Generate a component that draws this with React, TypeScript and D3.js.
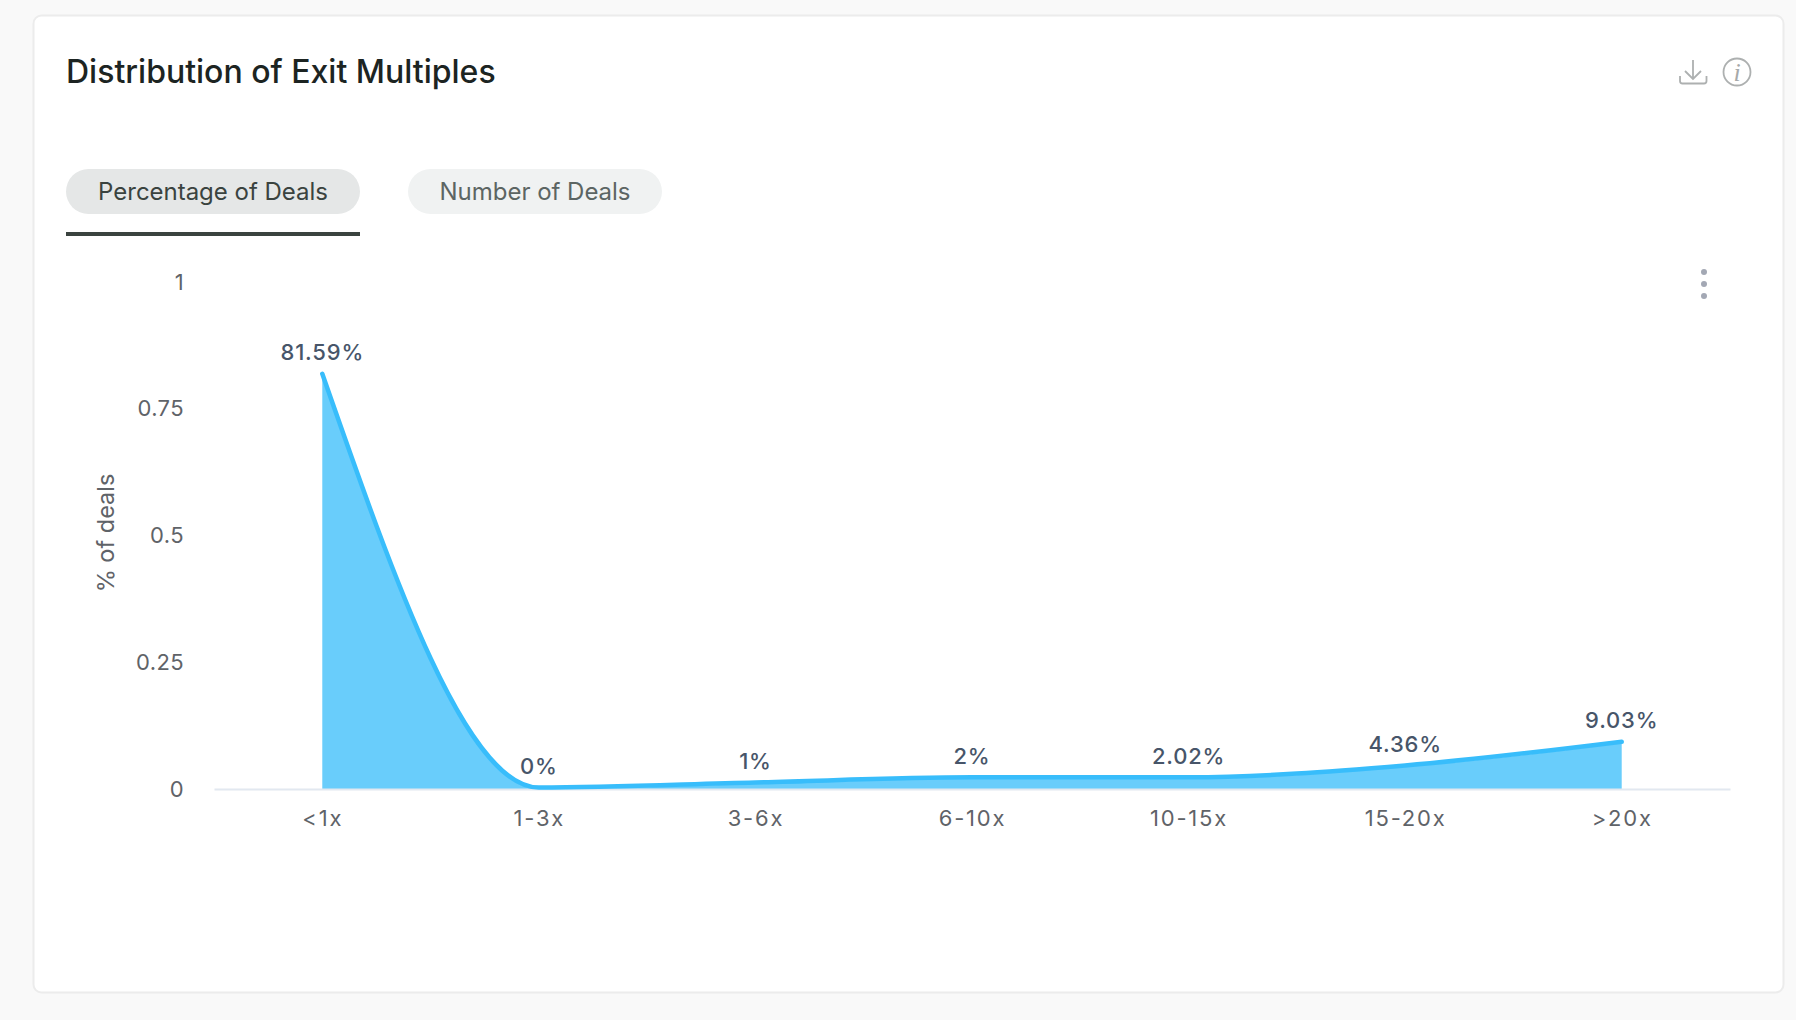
import { useEffect, useRef } from "react"
import * as d3 from "d3"

const categories = ["<1x", "1-3x", "3-6x", "6-10x", "10-15x", "15-20x", ">20x"]
const shares = [0.8159, 0, 0.01, 0.02, 0.0202, 0.0436, 0.0903]
const shareLabels = ["81.59%", "0%", "1%", "2%", "2.02%", "4.36%", "9.03%"]
const yTicks = [0, 0.25, 0.5, 0.75, 1]
const tabs = ["Percentage of Deals", "Number of Deals"]

const width = 1796
const height = 1020
const font = "Inter, sans-serif"

export default function App() {
  const svgRef = useRef<SVGSVGElement>(null)

  useEffect(() => {
    if (!svgRef.current) return

    const svg = d3.select(svgRef.current)
    svg.selectAll("*").remove()

    // page and card
    svg.append("rect").attr("width", width).attr("height", height).attr("fill", "#f9f9f9")
    svg
      .append("rect")
      .attr("x", 33.5)
      .attr("y", 15.5)
      .attr("width", 1750)
      .attr("height", 977)
      .attr("rx", 8)
      .attr("fill", "#fff")
      .attr("stroke", "#ececec")
      .attr("stroke-width", 2)

    svg
      .append("text")
      .attr("x", 66)
      .attr("y", 83)
      .attr("font-family", font)
      .attr("font-size", 32)
      .attr("font-weight", 500)
      .attr("fill", "#1c2422")
      .text("Distribution of Exit Multiples")

    // tabs
    const tabBoxes = [
      { x: 66, w: 294, fill: "#e5e7e7", color: "#3a433f" },
      { x: 408, w: 254, fill: "#f0f2f2", color: "#5c6563" },
    ]
    tabs.forEach((t, i) => {
      const b = tabBoxes[i]
      svg
        .append("rect")
        .attr("x", b.x)
        .attr("y", 169)
        .attr("width", b.w)
        .attr("height", 45)
        .attr("rx", 22.5)
        .attr("fill", b.fill)
      svg
        .append("text")
        .attr("x", b.x + b.w / 2)
        .attr("y", 200)
        .attr("text-anchor", "middle")
        .attr("font-family", font)
        .attr("font-size", 24)
        .attr("letter-spacing", -0.02)
        .attr("fill", b.color)
        .text(t)
    })
    svg.append("rect").attr("x", 66).attr("y", 232).attr("width", 294).attr("height", 4).attr("fill", "#3a433f")

    // header icons
    const icons = svg.append("g").attr("fill", "none").attr("stroke", "#adb0b0").attr("stroke-width", 1.8)
    icons.append("path").attr("d", "M1693 60V78M1685 71L1693 79L1701 71")
    icons.append("path").attr("d", "M1680 76V81Q1680 83.5 1682.5 83.5H1704Q1706.5 83.5 1706.5 81V76")
    icons.append("circle").attr("cx", 1737).attr("cy", 72).attr("r", 13.5)
    svg
      .append("text")
      .attr("x", 1737)
      .attr("y", 81)
      .attr("text-anchor", "middle")
      .attr("font-family", "'Liberation Serif', serif")
      .attr("font-style", "italic")
      .attr("font-size", 26)
      .attr("fill", "#a6a9a9")
      .text("i")

    // menu dots
    ;[272, 284, 296].forEach((cy) => {
      svg.append("circle").attr("cx", 1704).attr("cy", cy).attr("r", 3).attr("fill", "#a3a8b4")
    })

    const x = d3.scalePoint<string>().domain(categories).range([214, 1730]).padding(0.5)
    const y = d3.scaleLinear().domain([0, 1]).range([789, 282])

    const points = categories.map((c, i) => ({ c, v: shares[i], label: shareLabels[i] }))

    const area = d3
      .area<(typeof points)[number]>()
      .x((d) => x(d.c)!)
      .y0(y(0))
      .y1((d) => y(d.v))
      .curve(d3.curveMonotoneX)

    const line = d3
      .line<(typeof points)[number]>()
      .x((d) => x(d.c)!)
      .y((d) => y(d.v))
      .curve(d3.curveMonotoneX)

    svg.append("path").datum(points).attr("fill", "#69cdfb").attr("d", area)

    // axes
    const xAxis = svg
      .append("g")
      .attr("transform", `translate(0,${y(0)})`)
      .call(d3.axisBottom(x).tickSize(0).tickPadding(21))
    xAxis.select(".domain").attr("stroke", "#e2e8f0").attr("stroke-width", 2)
    xAxis
      .selectAll("text")
      .attr("font-family", font)
      .attr("font-size", 22)
      .attr("letter-spacing", 1.8)
      .attr("fill", "#5f6368")

    const yAxis = svg
      .append("g")
      .attr("transform", "translate(184,0)")
      .call(d3.axisLeft(y).tickValues(yTicks).tickFormat(d3.format("~g")).tickSize(0).tickPadding(0))
    yAxis.select(".domain").remove()
    yAxis
      .selectAll("text")
      .attr("font-family", font)
      .attr("font-size", 22)
      .attr("letter-spacing", 0.4)
      .attr("fill", "#5f6368")

    svg
      .append("text")
      .attr("transform", "translate(114,533) rotate(-90)")
      .attr("text-anchor", "middle")
      .attr("font-family", font)
      .attr("font-size", 23.5)
      .attr("fill", "#5f6368")
      .text("% of deals")

    // the stroke sits a little above the fill's top edge in the original
    svg
      .append("path")
      .datum(points)
      .attr("transform", "translate(0,-1.5)")
      .attr("fill", "none")
      .attr("stroke", "#38bdfb")
      .attr("stroke-width", 4.5)
      .attr("stroke-linecap", "round")
      .attr("d", line)

    svg
      .append("g")
      .selectAll("text")
      .data(points)
      .join("text")
      .attr("x", (d) => x(d.c)!)
      .attr("y", (d) => y(d.v) - 15)
      .attr("text-anchor", "middle")
      .attr("font-family", font)
      .attr("font-size", 22)
      .attr("font-weight", 500)
      .attr("letter-spacing", 0.8)
      .attr("fill", "#475569")
      .text((d) => d.label)
  }, [])

  return <svg ref={svgRef} width={width} height={height} style={{ position: "absolute", left: 0, top: 0 }} />
}
